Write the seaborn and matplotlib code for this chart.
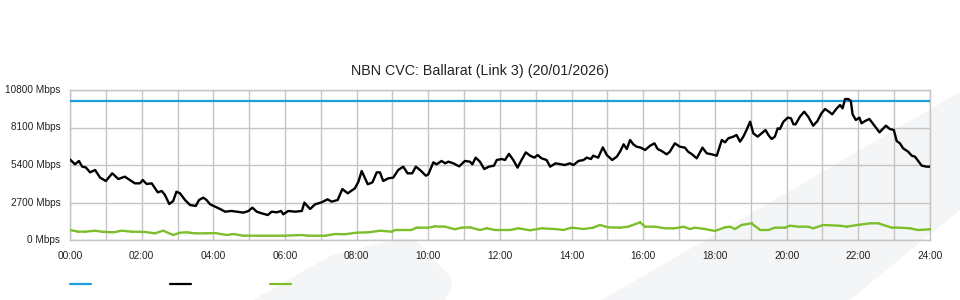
import numpy as np
import pandas as pd
import matplotlib
matplotlib.use("Agg")
import matplotlib.pyplot as plt
from matplotlib.patches import Polygon
from matplotlib.lines import Line2D
import seaborn as sns

# ---------------- data ----------------
title = "NBN CVC: Ballarat (Link 3) (20/01/2026)"
y_ticks = [0, 2700, 5400, 8100, 10800]
y_tick_labels = ["0 Mbps", "2700 Mbps", "5400 Mbps", "8100 Mbps", "10800 Mbps"]
x_ticks = [0, 2, 4, 6, 8, 10, 12, 14, 16, 18, 20, 22, 24]
x_tick_labels = ["00:00", "02:00", "04:00", "06:00", "08:00", "10:00", "12:00",
                 "14:00", "16:00", "18:00", "20:00", "22:00", "24:00"]

capacity_hours = [0, 24]
capacity_mbps = [10000, 10000]

traffic_hours = [
    0.00, 0.14, 0.25, 0.34, 0.44, 0.56, 0.70, 0.84, 1.00, 1.18, 1.35, 1.53, 1.67, 1.81,
    1.95, 2.03, 2.14, 2.28, 2.45, 2.56, 2.65, 2.77, 2.88, 2.97, 3.07, 3.21, 3.35, 3.51,
    3.60, 3.72, 3.81, 3.91, 4.05, 4.19, 4.33, 4.51, 4.65, 4.84, 4.98, 5.09, 5.21, 5.35,
    5.52, 5.63, 5.77, 5.89, 5.95, 6.09, 6.28, 6.47, 6.54, 6.70, 6.84, 7.02, 7.19, 7.30,
    7.47, 7.60, 7.75, 7.95, 8.05, 8.14, 8.31, 8.44, 8.56, 8.65, 8.74, 8.88, 9.02, 9.16,
    9.30, 9.42, 9.55, 9.65, 9.77, 9.93, 10.00, 10.14, 10.23, 10.37, 10.47, 10.56, 10.70,
    10.86, 11.02, 11.16, 11.23, 11.32, 11.44, 11.56, 11.69, 11.83, 11.91, 12.05, 12.14,
    12.25, 12.37, 12.49, 12.60, 12.72, 12.84, 12.96, 13.05, 13.16, 13.30, 13.40, 13.55,
    13.70, 13.81, 13.95, 14.05, 14.19, 14.33, 14.42, 14.54, 14.60, 14.74, 14.87, 14.98,
    15.13, 15.26, 15.35, 15.45, 15.54, 15.63, 15.72, 15.81, 15.93, 16.05, 16.19, 16.31,
    16.40, 16.51, 16.65, 16.74, 16.88, 17.02, 17.16, 17.25, 17.36, 17.49, 17.65, 17.77,
    17.91, 18.05, 18.19, 18.28, 18.37, 18.51, 18.60, 18.70, 18.79, 18.88, 18.98, 19.07,
    19.19, 19.30, 19.41, 19.49, 19.58, 19.67, 19.75, 19.81, 19.91, 20.03, 20.12, 20.19,
    20.25, 20.37, 20.49, 20.60, 20.74, 20.86, 20.97, 21.07, 21.18, 21.27, 21.40, 21.49,
    21.56, 21.63, 21.72, 21.79, 21.84, 21.93, 22.03, 22.09, 22.19, 22.31, 22.42, 22.59,
    22.70, 22.77, 22.88, 22.99, 23.07, 23.16, 23.25, 23.39, 23.49, 23.58, 23.67, 23.77,
    23.91, 24.00]
traffic_mbps = [
    5800, 5450, 5690, 5280, 5230, 4870, 5040, 4490, 4250, 4800, 4390, 4560, 4320, 4080,
    4080, 4320, 4030, 4080, 3430, 3530, 3240, 2590, 2810, 3480, 3360, 2880, 2520, 2450,
    2880, 3050, 2880, 2570, 2400, 2230, 2040, 2090, 2040, 1970, 2090, 2330, 2040, 1920,
    1800, 2040, 1990, 2090, 1850, 2090, 2040, 2090, 2690, 2230, 2570, 2710, 2930, 2760,
    2880, 3670, 3360, 3720, 4200, 4970, 4010, 4150, 4870, 4870, 4250, 4440, 4490, 5040,
    5280, 4800, 4800, 5280, 5040, 4630, 4730, 5590, 5450, 5690, 5520, 5640, 5520,
    5300, 5690, 5640, 5450, 5930, 5640, 5110, 5280, 5350, 5760, 5830, 5760,
    6200, 5760, 5210, 5760, 6310, 6070, 5930, 6120, 5880, 5760, 5280, 5520,
    5450, 5400, 5520, 5400, 5690, 5760, 5930, 5830, 6070, 5930, 6670, 6120,
    5760, 6000, 6360, 6890, 6550, 7200, 6890, 6720, 6650, 6480, 6790, 6960,
    6550, 6410, 6170, 6360, 6960, 6720, 6650, 6360, 6170, 5880, 6650, 6240,
    6170, 6070, 7200, 7030, 7320, 7440, 7560, 7080, 7440, 7920, 8520, 7680,
    7440, 7680, 7920, 7560, 7270, 7440, 8040, 7990, 8520, 8810, 8760, 8330,
    8330, 8880, 9240, 8880, 8230, 8570, 9120, 9430, 9240, 9050, 9480, 9720,
    9480, 10150, 10150, 10010, 9050, 8640, 8810, 8400, 8570, 8710, 8330, 7750,
    8040, 8230, 7990, 7920, 7130, 6960, 6600, 6360, 6070, 6000, 5690, 5350,
    5280, 5280]

other_hours = [
    0.00, 0.23, 0.42, 0.70, 0.88, 1.21, 1.44, 1.72, 2.09, 2.37, 2.60, 2.88, 3.07, 3.26,
    3.49, 3.81, 4.05, 4.37, 4.56, 4.84, 5.50, 6.00, 6.47, 6.65, 7.12, 7.40, 7.67, 8.00,
    8.33, 8.65, 8.98, 9.07, 9.53, 9.67, 10.00, 10.19, 10.47, 10.74, 10.93, 11.16, 11.44,
    11.63, 11.86, 12.28, 12.51, 12.84, 13.16, 13.53, 13.77, 14.00, 14.33, 14.60, 14.79,
    15.02, 15.35, 15.58, 15.91, 16.05, 16.33, 16.60, 16.88, 17.12, 17.30, 17.44, 17.72,
    18.00, 18.28, 18.42, 18.56, 18.74, 19.02, 19.26, 19.49, 19.67, 19.95, 20.09, 20.33,
    20.60, 20.74, 21.02, 21.49, 21.67, 22.05, 22.33, 22.56, 22.93, 23.16, 23.44, 23.67,
    24.00]
other_mbps = [
    720, 600, 600, 670, 600, 550, 670, 600, 580, 480, 670, 360, 530, 550,
    480, 480, 500, 360, 430, 310, 310, 310, 360, 310, 310, 430, 410, 530,
    550, 670, 600, 720, 720, 890, 890, 980, 960, 770, 890, 910, 720,
    840, 720, 720, 840, 700, 840, 790, 720, 890, 790, 890, 1080,
    910, 890, 960, 1270, 960, 960, 840, 840, 960, 790, 890, 790,
    650, 910, 960, 790, 1080, 1200, 720, 720, 890, 890, 1030, 960,
    960, 840, 1080, 1030, 960, 1110, 1200, 1200, 890, 890, 840, 720,
    770]

# ---------------- style ----------------
sns.set_style("white")
plt.rcParams["font.family"] = ["Liberation Sans", "DejaVu Sans"]

BLUE = "#1a9fdb"
BLACK = "#000000"
GREEN = "#7cbf2a"
GRID = "#c4c4c4"
BAND = "#f4f5f7"
TEXT = "#222222"

fig = plt.figure(figsize=(9.6, 3.0), dpi=100)
fig.patch.set_facecolor("white")

# faint decorative background shapes
fig.add_artist(Polygon([(0.2635, 0.0), (0.344, 0.147), (0.415, 0.205), (0.432, 0.203),
                        (0.469, 0.077), (0.471, 0.043), (0.464, 0.0)],
                       closed=True, transform=fig.transFigure, facecolor=BAND,
                       edgecolor="none", zorder=0))
fig.add_artist(Polygon([(0.627, 0.0), (1.0, 0.693), (1.0, 0.30), (0.885, 0.0)],
                       closed=True, transform=fig.transFigure, facecolor=BAND,
                       edgecolor="none", zorder=0))

ax = fig.add_axes([70 / 960, 60 / 300, 860 / 960, 150 / 300])
ax.patch.set_alpha(0.0)

cap_df = pd.DataFrame({"hour": capacity_hours, "mbps": capacity_mbps})
traf_df = pd.DataFrame({"hour": traffic_hours, "mbps": traffic_mbps})
oth_df = pd.DataFrame({"hour": other_hours, "mbps": other_mbps})

sns.lineplot(data=cap_df, x="hour", y="mbps", ax=ax, color=BLUE, linewidth=1.6, zorder=4)
sns.lineplot(data=traf_df, x="hour", y="mbps", ax=ax, color=BLACK, linewidth=1.7, zorder=5)
sns.lineplot(data=oth_df, x="hour", y="mbps", ax=ax, color=GREEN, linewidth=1.7,
             marker="s", markersize=1.6, markeredgewidth=0, zorder=4)

ax.set_xlim(0, 24)
ax.set_ylim(0, 10800)
ax.set_xticks(range(0, 25))
ax.set_xticklabels([x_tick_labels[x_ticks.index(h)] if h in x_ticks else "" for h in range(0, 25)])
ax.set_yticks(y_ticks)
ax.set_yticklabels(y_tick_labels)
ax.set_xlabel("")
ax.set_ylabel("")

ax.grid(True, color=GRID, linewidth=1.0)
ax.set_axisbelow(True)
for s in ax.spines.values():
    s.set_color(GRID)
    s.set_linewidth(1.0)

ax.tick_params(axis="x", length=5, width=1.0, color=GRID, labelsize=7.3, pad=3,
               labelcolor=TEXT)
ax.tick_params(axis="y", length=0, labelsize=7.2, pad=7, labelcolor=TEXT)
for lbl in ax.get_yticklabels():
    lbl.set_va("center")

fig.text(0.5, 1 - 71 / 300, title, ha="center", va="center", fontsize=10.25, color=TEXT)

handles = [Line2D([], [], color=BLUE, linewidth=1.6),
           Line2D([], [], color=BLACK, linewidth=1.6),
           Line2D([], [], color=GREEN, linewidth=1.6)]
leg = ax.legend(handles, [" ", " ", " "], ncol=3, loc="center left",
                bbox_to_anchor=(0.0, -0.3), frameon=False, fontsize=8,
                handlelength=1.9, handletextpad=0.4, columnspacing=6.42,
                borderaxespad=0, borderpad=0)

fig.savefig("out.png", dpi=100)
